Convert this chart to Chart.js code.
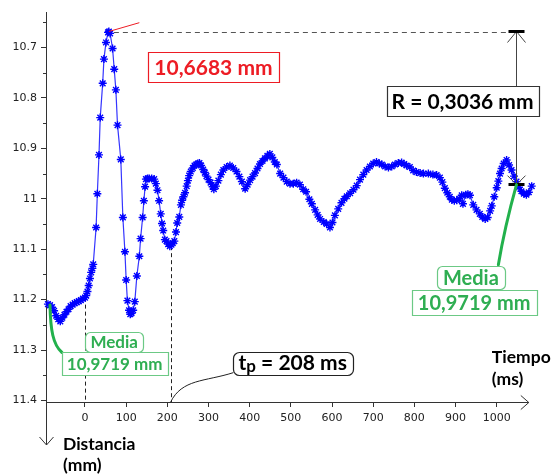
<!DOCTYPE html>
<html>
<head>
<meta charset="utf-8">
<script src="https://cdn.jsdelivr.net/npm/chart.js@4.4.0/dist/chart.umd.min.js"></script>
<style>
  html, body { margin: 0; padding: 0; background: #fff; }
  #wrap { width: 553px; height: 474px; }
</style>
</head>
<body>
<div id="wrap"><canvas id="profileChart" width="553" height="474"></canvas></div>
<script>
// Sample times (ms)
const timeMs = [
  -90, -85, -80, -75, -70, -65, -60, -55, -50, -45, -40, -35, -30, -25, -20, -15, -10, -5, 0,
  3, 6, 9, 12, 15, 18, 20, 27, 30, 34, 37, 43, 46, 51, 56, 58,
  61, 67, 71, 75, 79, 87, 92, 97, 100, 103, 107, 110, 113, 117,
  121, 126, 132, 135, 140, 143, 146, 148, 152, 156, 162, 168, 172, 176, 180, 184, 187, 190, 194,
  198, 202, 206, 210, 213, 217, 221, 224, 229, 233, 236, 239, 243, 247, 250, 253, 257, 262, 266, 270, 274, 278, 282, 287, 291, 295,
  300, 305, 310, 313, 318, 324, 330, 336, 344, 352, 360, 368, 375, 381, 389, 395,
  401, 407, 413, 419, 425, 431, 437, 443, 449, 455, 461, 466, 474, 482, 490, 498,
  506, 514, 522, 530, 537, 545, 551, 559, 565, 571, 580, 587, 595,
  601, 607, 615, 623, 630, 636, 644, 652, 660, 668, 676, 684, 692,
  700, 708, 715, 721, 729, 737, 745, 753, 761, 769, 775, 781, 789, 797,
  805, 814, 822, 834, 845, 854, 862, 868, 874, 880, 886, 891, 897,
  903, 909, 915, 918, 925, 930, 935, 943, 951, 959, 965, 972, 978, 984, 988, 994,
  1000, 1004, 1008, 1012, 1017, 1024, 1030, 1036, 1042, 1048, 1054, 1060, 1066, 1072, 1078, 1085
];

// Measured distance (mm)
const distanceMm = [
  11.209, 11.211, 11.215, 11.222, 11.232, 11.239, 11.243, 11.236, 11.230, 11.224, 11.219, 11.213, 11.210, 11.207, 11.205, 11.203, 11.201, 11.198, 11.196,
  11.192, 11.184, 11.172, 11.158, 11.146, 11.138, 11.130, 11.057, 10.990, 10.913, 10.839, 10.771, 10.723, 10.690, 10.670, 10.6683,
  10.672, 10.702, 10.743, 10.784, 10.854, 10.922, 11.037, 11.105, 11.161, 11.202, 11.221, 11.229, 11.227, 11.221,
  11.204, 11.153, 11.114, 11.079, 11.037, 11.004, 10.976, 10.961, 10.960, 10.960, 10.960, 10.961, 10.970, 10.983, 11.004, 11.030, 11.049, 11.063, 11.081,
  11.084, 11.090, 11.094, 11.091, 11.088, 11.084, 11.066, 11.048, 11.036, 11.012, 11.003, 10.996, 10.988, 10.975, 10.964, 10.954, 10.946, 10.939, 10.934, 10.932, 10.930, 10.929, 10.934, 10.942, 10.948, 10.955,
  10.962, 10.968, 10.976, 10.981, 10.975, 10.964, 10.952, 10.943, 10.937, 10.934, 10.939, 10.946, 10.956, 10.966, 10.980, 10.972,
  10.963, 10.956, 10.949, 10.940, 10.931, 10.925, 10.920, 10.915, 10.911, 10.918, 10.927, 10.932, 10.950, 10.958, 10.966, 10.970,
  10.970, 10.968, 10.972, 10.981, 10.986, 11.001, 11.010, 11.022, 11.032, 11.040, 11.046, 11.050, 11.057,
  11.047, 11.033, 11.020, 11.008, 11.000, 10.995, 10.989, 10.982, 10.974, 10.962, 10.952, 10.943, 10.936,
  10.930, 10.927, 10.930, 10.932, 10.936, 10.938, 10.936, 10.932, 10.929, 10.928, 10.931, 10.934, 10.937, 10.944,
  10.947, 10.949, 10.950, 10.950, 10.952, 10.953, 10.958, 10.967, 10.979, 10.988, 10.996, 11.002, 11.004,
  11.003, 11.000, 10.993, 11.010, 10.992, 10.991, 10.993, 11.012, 11.022, 11.030, 11.036, 11.040, 11.037, 11.024, 11.014, 10.996,
  10.978, 10.965, 10.950, 10.940, 10.930, 10.923, 10.933, 10.943, 10.955, 10.966, 10.977, 10.985, 10.990, 10.992, 10.987, 10.975
];

// Axis ticks
const xTickValues = [0, 100, 200, 300, 400, 500, 600, 700, 800, 900, 1000];
const yTickValues = [10.7, 10.8, 10.9, 11, 11.1, 11.2, 11.3, 11.4];
const yMinorTicks = [10.65, 10.75, 10.85, 10.95, 11.05, 11.15, 11.25, 11.35];

// Key results
const peakTime = 58;
const peakDepth = 10.6683;
const meanDepth = 10.9719;
const tpTime = 208;
const rangeTime = 1048;

const fmtMm = v => v.toFixed(4).replace('.', ',') + ' mm';
const LABEL_FONT = 'Lato, "Open Sans", sans-serif';
const GREEN = '#2fae52';
const GREEN_BOX = '#6cc985';

function nearestDepth(t) {
  let best = 0;
  timeMs.forEach((v, i) => { if (Math.abs(v - t) < Math.abs(timeMs[best] - t)) best = i; });
  return distanceMm[best];
}

function drawBox(ctx, cx, cy, w, h, r, stroke) {
  ctx.beginPath();
  ctx.roundRect(Math.round(cx - w / 2) + 0.5, Math.round(cy - h / 2) + 0.5, Math.round(w), Math.round(h), r);
  ctx.fillStyle = '#fff';
  ctx.fill();
  ctx.strokeStyle = stroke;
  ctx.lineWidth = 1.2;
  ctx.stroke();
}

function drawText(ctx, text, cx, cy, size, color) {
  ctx.font = 'bold ' + size + 'px ' + LABEL_FONT;
  ctx.fillStyle = color;
  ctx.textAlign = 'center';
  ctx.textBaseline = 'middle';
  ctx.fillText(text, cx, cy + 1);
}

// axes, minor ticks and dashed guides under the data
const guides = {
  id: 'guides',
  beforeDatasetsDraw(chart) {
    const { ctx, chartArea: a, scales: { x, y } } = chart;
    const ax = a.left + 0.5, ay = a.bottom + 0.5;
    const xEnd = x.getPixelForValue(1078);
    const yEnd = a.bottom + 43;
    ctx.save();
    ctx.strokeStyle = '#333';
    ctx.lineWidth = 1;
    ctx.beginPath();
    ctx.moveTo(ax, a.top); ctx.lineTo(ax, yEnd);
    ctx.moveTo(ax - 7, yEnd - 8); ctx.lineTo(ax, yEnd); ctx.lineTo(ax + 7, yEnd - 8);
    ctx.moveTo(a.left, ay); ctx.lineTo(xEnd, ay);
    ctx.moveTo(xEnd - 8, ay - 7); ctx.lineTo(xEnd, ay); ctx.lineTo(xEnd - 8, ay + 7);
    yMinorTicks.forEach(v => {
      const p = Math.round(y.getPixelForValue(v)) + 0.5;
      ctx.moveTo(a.left - 3, p); ctx.lineTo(a.left, p);
    });
    ctx.stroke();

    // drop lines at t = 0 and t = tp
    ctx.setLineDash([4, 3]);
    ctx.strokeStyle = '#222';
    ctx.beginPath();
    [0, tpTime].forEach(t => {
      const px = Math.round(x.getPixelForValue(t)) + 0.5;
      ctx.moveTo(px, y.getPixelForValue(nearestDepth(t)));
      ctx.lineTo(px, a.bottom);
    });
    ctx.stroke();

    // level of the peak
    ctx.setLineDash([5, 4]);
    ctx.strokeStyle = '#555';
    ctx.lineWidth = 1.2;
    const pk = Math.round(y.getPixelForValue(peakDepth)) + 0.5;
    ctx.beginPath();
    ctx.moveTo(x.getPixelForValue(peakTime) + 5, pk);
    ctx.lineTo(x.getPixelForValue(rangeTime), pk);
    ctx.stroke();
    ctx.restore();
  }
};

// callouts and value labels on top
const callouts = {
  id: 'callouts',
  afterDatasetsDraw(chart) {
    const { ctx, chartArea: a, scales: { x, y } } = chart;
    const X = v => x.getPixelForValue(v);
    const Y = v => y.getPixelForValue(v);
    ctx.save();

    // peak label
    ctx.strokeStyle = '#ed1c24';
    ctx.lineWidth = 1;
    ctx.beginPath();
    ctx.moveTo(X(peakTime), Y(peakDepth));
    ctx.lineTo(X(132), Y(10.6508));
    ctx.stroke();
    drawBox(ctx, X(312), Y(10.7387), 131, 30, 0, '#ed1c24');
    drawText(ctx, fmtMm(peakDepth), X(312), Y(10.7387), 21, '#ed1c24');

    // range between peak and mean
    const rx = Math.round(X(rangeTime)) + 0.5;
    const yTop = Y(peakDepth), yBot = Y(meanDepth);
    ctx.strokeStyle = '#444';
    ctx.lineWidth = 1;
    ctx.beginPath();
    ctx.moveTo(rx, yTop); ctx.lineTo(rx, yBot);
    ctx.moveTo(rx - 9, yTop + 11); ctx.lineTo(rx, yTop); ctx.lineTo(rx + 9, yTop + 11);
    ctx.moveTo(rx - 9, yBot - 9); ctx.lineTo(rx, yBot); ctx.lineTo(rx + 9, yBot - 9);
    ctx.stroke();
    ctx.strokeStyle = '#000';
    ctx.lineWidth = 3;
    ctx.beginPath();
    ctx.moveTo(rx - 8, yTop); ctx.lineTo(rx + 8, yTop);
    ctx.moveTo(rx - 8, yBot); ctx.lineTo(rx + 8, yBot);
    ctx.stroke();
    drawBox(ctx, X(917), Y(10.806), 152, 30, 0, '#333');
    drawText(ctx, 'R = ' + fmtMm(meanDepth - peakDepth), X(917), Y(10.806), 21, '#000');

    // mean callouts
    ctx.strokeStyle = '#22b14c';
    ctx.lineWidth = 3;
    ctx.lineCap = 'round';
    ctx.beginPath();
    ctx.moveTo(rx, yBot);
    ctx.quadraticCurveTo(X(1019), Y(11.057), X(1004), Y(11.131));
    ctx.moveTo(X(-85), Y(11.2106));
    ctx.bezierCurveTo(X(-83.8), Y(11.2601), X(-77.7), Y(11.2899), X(-55.9), Y(11.3048));
    ctx.stroke();

    drawBox(ctx, X(937.2), Y(11.1565), 68, 23, 5, GREEN_BOX);
    drawText(ctx, 'Media', X(937.2), Y(11.1565), 20, GREEN);
    drawBox(ctx, X(945.3), Y(11.2057), 125, 25, 0, GREEN_BOX);
    drawText(ctx, fmtMm(meanDepth), X(945.3), Y(11.2057), 20, GREEN);

    drawBox(ctx, X(70.8), Y(11.2834), 58, 20, 5, GREEN_BOX);
    drawText(ctx, 'Media', X(70.8), Y(11.2834), 17, GREEN);
    drawBox(ctx, X(72.1), Y(11.3264), 106, 23, 0, GREEN_BOX);
    drawText(ctx, fmtMm(meanDepth), X(72.1), Y(11.3264), 17, GREEN);

    // response time callout
    ctx.strokeStyle = '#222';
    ctx.lineWidth = 1;
    ctx.beginPath();
    ctx.moveTo(X(tpTime), a.bottom);
    ctx.bezierCurveTo(X(235.6), Y(11.3569), X(291.5), Y(11.3628), X(359.5), Y(11.345));
    ctx.stroke();
    const tcx = X(504.5), tcy = Y(11.3264);
    drawBox(ctx, tcx, tcy, 120, 23, 6, '#222');
    const big = 'bold 21px ' + LABEL_FONT, small = 'bold 17px ' + LABEL_FONT;
    const rest = ' = ' + tpTime + ' ms';
    ctx.font = big; const wt = ctx.measureText('t').width, wr = ctx.measureText(rest).width;
    ctx.font = small; const wp = ctx.measureText('p').width;
    const tx = tcx - (wt + wp + wr) / 2;
    ctx.fillStyle = '#000';
    ctx.textAlign = 'left';
    ctx.textBaseline = 'alphabetic';
    const base = tcy + 7;
    ctx.font = big; ctx.fillText('t', tx, base);
    ctx.font = small; ctx.fillText('p', tx + wt, base + 2);
    ctx.font = big; ctx.fillText(rest, tx + wt + wp, base);

    // axis titles
    ctx.font = 'bold 17.5px ' + LABEL_FONT;
    ctx.fillStyle = '#000';
    const tl = X(1078) - 37;
    ctx.fillText('Tiempo', tl, a.bottom - 39);
    ctx.fillText('(ms)', tl, a.bottom - 17);
    ctx.fillText('Distancia', a.left + 17, a.bottom + 48);
    ctx.fillText('(mm)', a.left + 17, a.bottom + 69);
    ctx.restore();
  }
};

const tickFont = { family: '"DejaVu Sans", Verdana, sans-serif', size: 11 };

new Chart(document.getElementById('profileChart'), {
  type: 'line',
  data: {
    datasets: [{
      data: timeMs.map((t, i) => ({ x: t, y: distanceMm[i] })),
      borderColor: '#3535ff',
      borderWidth: 1.2,
      pointStyle: 'star',
      pointRadius: 4,
      pointBorderWidth: 1.4,
      pointBorderColor: '#0000ff',
      pointBackgroundColor: '#0000ff',
      tension: 0,
      clip: false
    }]
  },
  options: {
    responsive: false,
    animation: false,
    devicePixelRatio: 1,
    layout: { padding: { top: 12, right: 18, left: 0, bottom: 0 } },
    plugins: { legend: { display: false }, tooltip: { enabled: false } },
    scales: {
      x: {
        type: 'linear',
        min: -94.7,
        max: 1093,
        afterBuildTicks: s => { s.ticks = xTickValues.map(v => ({ value: v })); },
        afterFit: s => { s.height = 72; },
        ticks: { callback: v => String(v), color: '#222', font: tickFont, padding: 5, maxRotation: 0, autoSkip: false },
        grid: { drawOnChartArea: false, drawTicks: true, tickLength: 5, color: '#333' },
        border: { display: false }
      },
      y: {
        type: 'linear',
        reverse: true,
        min: 10.6296,
        max: 11.403,
        afterBuildTicks: s => { s.ticks = yTickValues.map(v => ({ value: v })); },
        afterFit: s => { s.width = 46; },
        ticks: { callback: v => String(v), color: '#222', font: tickFont, padding: 4, autoSkip: false },
        grid: { drawOnChartArea: false, drawTicks: true, tickLength: 5, color: '#333' },
        border: { display: false }
      }
    }
  },
  plugins: [guides, callouts]
});
</script>
</body>
</html>
